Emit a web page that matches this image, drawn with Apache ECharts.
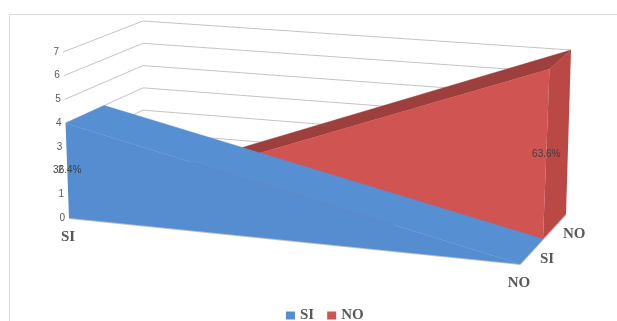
<!DOCTYPE html>
<html>
<head>
<meta charset="utf-8">
<script src="https://cdn.jsdelivr.net/npm/echarts@6/dist/echarts.min.js"></script>
<style>
  html, body { margin: 0; padding: 0; background: #fff; }
  #chart { width: 617px; height: 321px; }
</style>
</head>
<body>
<div id="chart"></div>
<script>
// Categories along the front axis, series along the depth axis
const categories = ['SI', 'NO'];
const seriesNames = ['SI', 'NO'];
const siValues = [4, 0];
const noValues = [0, 7];
const yTicks = [0, 1, 2, 3, 4, 5, 6, 7];

const seriesValues = [siValues, noValues];
const yMax = yTicks[yTicks.length - 1];
const nCat = categories.length;
const nDepth = seriesNames.length;
const total = seriesValues.reduce((a, arr) => a + arr.reduce((b, v) => b + v, 0), 0);

// Shades for each slab: front face, top face, end face
const palette = [
  { front: '#568DD1', top: '#578FD3', side: '#4F83C4' },
  { front: '#D05451', top: '#9C3F3D', side: '#BA4946' }
];

// 3D view: pixel offsets added to the flat cartesian frame at each
// (category end, depth end) corner, for the floor (base) and the top value.
const VIEW = [
  [ { base: [0, 0],  top: [-6, 0] },  { base: [74, -41], top: [74, -31] } ],
  [ { base: [0, 46], top: [8, 36] },  { base: [46, -4],  top: [51, -2] } ]
];

function lerp(a, b, t) { return a + (b - a) * t; }

function project(api, cat, val, depth) {
  const p = api.coord([cat, val]);
  const o = api.coord([0, 0]);
  const q = api.coord([nCat - 1, yMax]);
  const u = (p[0] - o[0]) / (q[0] - o[0]);
  const s = (p[1] - o[1]) / (q[1] - o[1]);
  const corner = (ui, wi) => {
    const c = VIEW[ui][wi];
    return [lerp(c.base[0], c.top[0], s), lerp(c.base[1], c.top[1], s)];
  };
  const f0 = corner(0, 0), f1 = corner(1, 0), b0 = corner(0, 1), b1 = corner(1, 1);
  const fx = lerp(f0[0], f1[0], u), fy = lerp(f0[1], f1[1], u);
  const bx = lerp(b0[0], b1[0], u), by = lerp(b0[1], b1[1], u);
  return [p[0] + lerp(fx, bx, depth), p[1] + lerp(fy, by, depth)];
}

const axisText = '#595959';
const gridColor = '#C4C4C4';

// Walls: gridlines on the side and back walls, value ticks, floor edges, axis names
function renderWalls(params, api) {
  const t = api.value(1);
  const children = [];
  const a = project(api, 0, t, 0);
  const b = project(api, 0, t, 1);
  const c = project(api, nCat - 1, t, 1);
  children.push({ type: 'polyline', shape: { points: [a, b, c] },
    style: { stroke: gridColor, lineWidth: 1, fill: null } });
  children.push({ type: 'text', x: a[0] - 4, y: a[1],
    style: { text: String(t), fill: axisText, font: '10px "Liberation Sans", sans-serif',
      align: 'right', verticalAlign: 'middle' } });

  if (params.dataIndex === 0) {
    const f0 = project(api, 0, 0, 0);
    const f1 = project(api, nCat - 1, 0, 0);
    const r1 = project(api, nCat - 1, 0, 1);
    children.push({ type: 'polyline', shape: { points: [f0, f1, r1] },
      style: { stroke: '#BFBFBF', lineWidth: 2, fill: null } });
    categories.forEach((name, i) => {
      const p = project(api, i, 0, 0);
      children.push({ type: 'text', x: p[0] - 1, y: p[1] + 19,
        style: { text: name, fill: axisText, font: 'bold 15px "Liberation Serif", serif',
          align: 'center', verticalAlign: 'middle' } });
    });
    seriesNames.forEach((name, k) => {
      const p = project(api, nCat - 1, 0, (k + 0.5) / nDepth);
      children.push({ type: 'text', x: p[0] + 8.5, y: p[1] + 7.5,
        style: { text: name, fill: axisText, font: 'bold 15px "Liberation Serif", serif',
          align: 'left', verticalAlign: 'middle' } });
    });
  }
  return { type: 'group', children };
}

// One area slab per series, drawn in its own depth slot
function makeSlabRenderer(k) {
  const values = seriesValues[k];
  const w0 = k / nDepth, w1 = (k + 1) / nDepth;
  const col = palette[k];
  return function (params, api) {
    const i = params.dataIndex;
    const v = api.value(1);
    const children = [];
    if (i < nCat - 1) {
      const vn = values[i + 1];
      const top = [project(api, i, v, w0), project(api, i, v, w1),
                   project(api, i + 1, vn, w1), project(api, i + 1, vn, w0)];
      children.push({ type: 'polygon', shape: { points: top },
        style: { fill: col.top, stroke: col.top, lineWidth: 0.5 } });
      const front = [project(api, i, 0, w0), project(api, i, v, w0),
                     project(api, i + 1, vn, w0), project(api, i + 1, 0, w0)];
      children.push({ type: 'polygon', shape: { points: front }, style: { fill: col.front } });
    } else if (v > 0) {
      const side = [project(api, i, 0, w0), project(api, i, v, w0),
                    project(api, i, v, w1), project(api, i, 0, w1)];
      children.push({ type: 'polygon', shape: { points: side }, style: { fill: col.side } });
    }
    if (v > 0) {
      const p = project(api, i, v / 2, w0);
      children.push({ type: 'text', x: p[0], y: p[1], z2: 10,
        style: { text: (v / total * 100).toFixed(1) + '%', fill: '#404040',
          font: '10px "Liberation Sans", sans-serif', align: 'center', verticalAlign: 'middle' } });
    }
    return { type: 'group', children };
  };
}

const chart = echarts.init(document.getElementById('chart'), null, { renderer: 'canvas' });

const slabSeries = seriesNames.map((name, k) => ({
  name,
  type: 'custom',
  coordinateSystem: 'cartesian2d',
  clip: false,
  z: 10 + (nDepth - k),
  itemStyle: { color: palette[k].front },
  encode: { x: 0, y: 1 },
  data: seriesValues[k].map((v, i) => [i, v]),
  renderItem: makeSlabRenderer(k)
}));

chart.setOption({
  animation: false,
  backgroundColor: '#fff',
  graphic: [{
    type: 'rect', silent: true,
    shape: { x: 9.5, y: 14.5, width: 640, height: 340 },
    style: { fill: null, stroke: '#D9D9D9', lineWidth: 1 }
  }],
  legend: {
    data: seriesNames,
    left: 281, top: 303,
    icon: 'rect', itemWidth: 9, itemHeight: 8, itemGap: 13,
    textStyle: { fontFamily: '"Liberation Serif", serif', fontWeight: 'bold', fontSize: 15, color: axisText }
  },
  grid: { left: 69, top: 52, width: 451, height: 166 },
  xAxis: { type: 'category', data: categories, boundaryGap: false, show: false },
  yAxis: { type: 'value', min: 0, max: yMax, interval: 1, show: false },
  series: [{
    name: 'walls',
    type: 'custom',
    coordinateSystem: 'cartesian2d',
    clip: false,
    z: 1,
    silent: true,
    encode: { x: 0, y: 1 },
    data: yTicks.map(t => [0, t]),
    renderItem: renderWalls
  }].concat(slabSeries)
});
</script>
</body>
</html>
